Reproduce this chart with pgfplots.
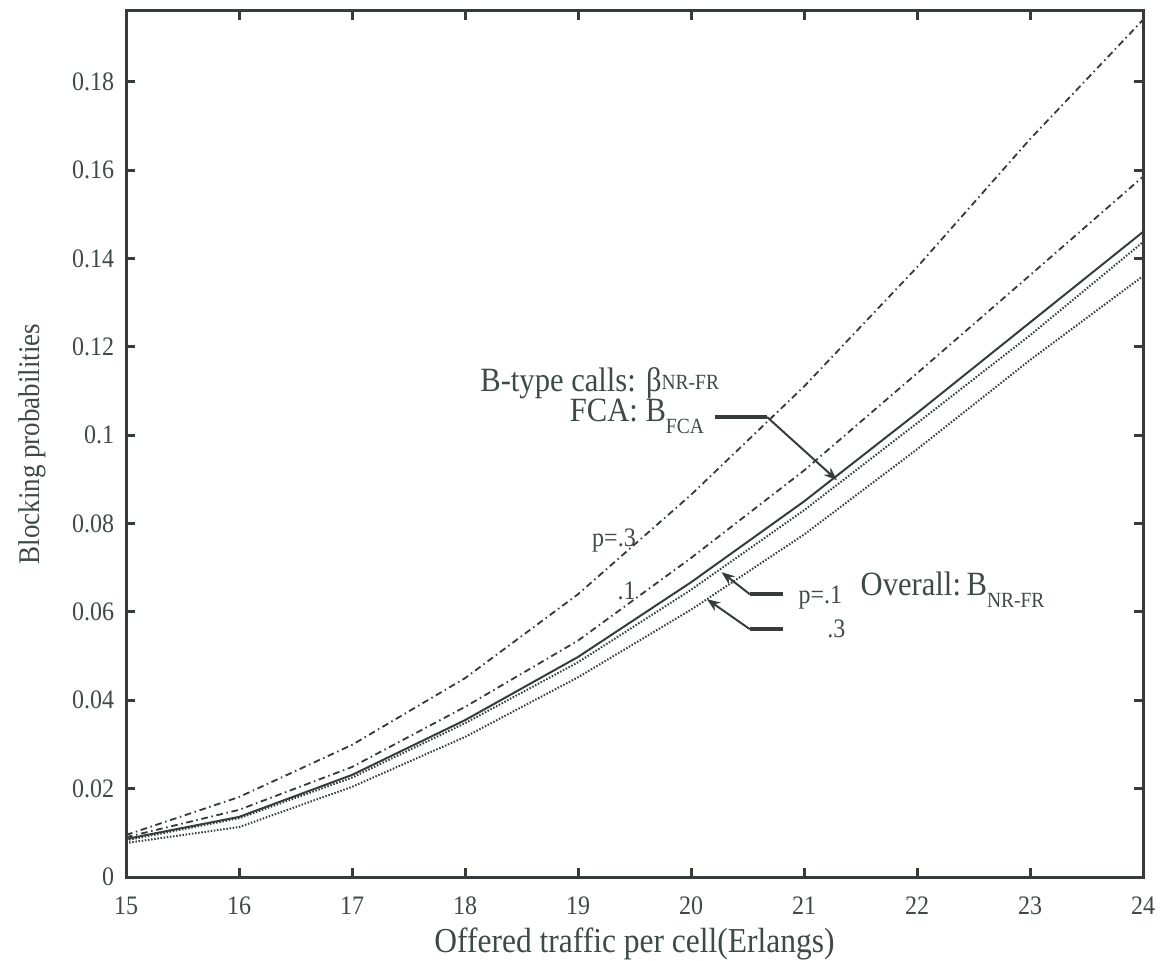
\documentclass[border=0pt]{standalone}
\usepackage{fontspec}
\setmainfont{Liberation Serif}[FakeStretch=0.9]
\usepackage{pgfplots}
\pgfplotsset{compat=1.18}
\usetikzlibrary{calc,arrows.meta}
\definecolor{ink}{HTML}{363D39}
\definecolor{txt}{HTML}{3E4A45}
\begin{document}
\begin{tikzpicture}
\begin{axis}[
  scale only axis, width=305.1pt, height=259.8pt,
  xmin=15, xmax=24, ymin=0, ymax=0.196,
  axis line style={ink, line width=0.9pt},
  tick style={ink, line width=0.9pt, major tick length=2.6pt},
  tick align=inside,
  xtick={15,16,17,18,19,20,21,22,23,24},
  xticklabels={15,16,17,18,19,20,21,22,23,24},
  ytick={0,0.02,0.04,0.06,0.08,0.1,0.12,0.14,0.16,0.18},
  yticklabels={0,0.02,0.04,0.06,0.08,0.1,0.12,0.14,0.16,0.18},
  ticklabel style={font=\fontsize{8}{9}\selectfont, text=txt},
  xticklabel style={yshift=-2.5pt},
  xlabel={Offered traffic per cell(Erlangs)},
  ylabel={Blocking probabilities},
  xlabel style={font=\fontsize{10.5}{12}\selectfont, text=txt, yshift=3pt},
  ylabel style={font=\fontsize{9}{11}\selectfont, text=txt, yshift=1pt},
  clip=false,
]
% B-type, p=.3
\addplot[ink, line width=0.55pt, dash pattern=on 2pt off 1.1pt on 0.45pt off 1.1pt] coordinates {
(15,0.0095) (16,0.0181) (17,0.0299) (18,0.045) (19,0.064) (20,0.0865) (21,0.111) (22,0.138) (23,0.167) (24,0.194)};
% B-type, p=.1
\addplot[ink, line width=0.55pt, dash pattern=on 2pt off 1.1pt on 0.45pt off 1.1pt] coordinates {
(15,0.009) (16,0.0152) (17,0.0249) (18,0.0385) (19,0.0535) (20,0.0722) (21,0.092) (22,0.114) (23,0.1362) (24,0.1585)};
% FCA
\addplot[ink, line width=0.6pt] coordinates {
(15,0.0086) (16,0.0136) (17,0.0231) (18,0.0355) (19,0.0498) (20,0.0667) (21,0.085) (22,0.105) (23,0.1255) (24,0.146)};
% Overall p=.1
\addplot[ink, line width=0.6pt, dash pattern=on 0.45pt off 0.5pt] coordinates {
(15,0.0083) (16,0.0133) (17,0.0225) (18,0.0348) (19,0.0486) (20,0.065) (21,0.083) (22,0.1027) (23,0.1226) (24,0.1437)};
% Overall p=.3
\addplot[ink, line width=0.6pt, dash pattern=on 0.45pt off 0.5pt] coordinates {
(15,0.0077) (16,0.0113) (17,0.0204) (18,0.0317) (19,0.0452) (20,0.0605) (21,0.0775) (22,0.0968) (23,0.117) (24,0.136)};

% annotations
\node[anchor=base west, inner sep=0pt, text=txt, font=\fontsize{10.2}{12}\selectfont] at (axis cs:18.13,0.1099)
  {B-type calls: β\raisebox{0.1ex}{\fontsize{6.5}{7}\selectfont NR-FR}};
\node[anchor=base east, inner sep=0pt, text=txt, font=\fontsize{10.2}{12}\selectfont] at (axis cs:20.12,0.1032)
  {FCA: B\raisebox{-0.8ex}{\fontsize{6.5}{7}\selectfont FCA}};
\draw[ink, line width=1.2pt] (axis cs:20.212,0.1041) -- (axis cs:20.673,0.1041);
\draw[ink, line width=0.6pt, -{Stealth[length=4pt,width=3pt]}] (axis cs:20.673,0.1041) -- (axis cs:21.292,0.0898);

\node[anchor=base west, inner sep=0pt, text=txt, font=\fontsize{8}{9}\selectfont] at (axis cs:19.12,0.0749) {p=.3};
\node[anchor=base west, inner sep=0pt, text=txt, font=\fontsize{8}{9}\selectfont] at (axis cs:19.345,0.0627) {.1};

\draw[ink, line width=1.2pt] (axis cs:20.81,0.0640) -- (axis cs:20.52,0.0640);
\draw[ink, line width=0.6pt, -{Stealth[length=4pt,width=3pt]}] (axis cs:20.52,0.0640) -- (axis cs:20.27,0.0690);
\draw[ink, line width=1.2pt] (axis cs:20.81,0.0561) -- (axis cs:20.52,0.0561);
\draw[ink, line width=0.6pt, -{Stealth[length=4pt,width=3pt]}] (axis cs:20.52,0.0561) -- (axis cs:20.14,0.0629);

\node[anchor=base west, inner sep=0pt, text=txt, font=\fontsize{8}{9}\selectfont] at (axis cs:20.947,0.0620) {p=.1};
\node[anchor=base west, inner sep=0pt, text=txt, font=\fontsize{8}{9}\selectfont] at (axis cs:21.20,0.0543) {.3};
\node[anchor=base west, inner sep=0pt, text=txt, font=\fontsize{10.2}{12}\selectfont] at (axis cs:21.496,0.0638)
  {Overall:\,B\raisebox{-0.8ex}{\fontsize{6.5}{7}\selectfont NR-FR}};
\end{axis}
\pgfresetboundingbox
\path ($(current axis.south west)+(-37.8pt,-24.9pt)$) rectangle ($(current axis.north east)+(6.9pt,3.3pt)$);
\end{tikzpicture}
\end{document}
